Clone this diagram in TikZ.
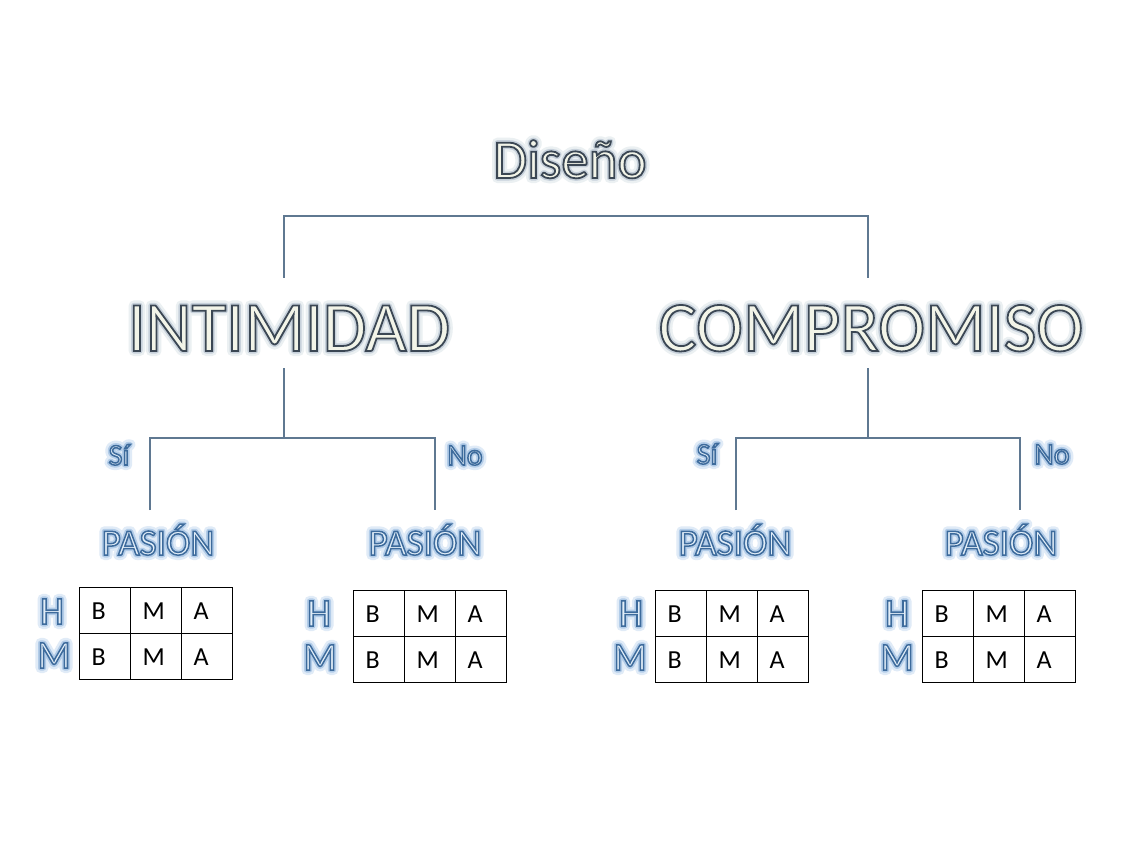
\documentclass[tikz,border=0pt]{standalone}
\usepackage{fontspec}
\setmainfont{Carlito}
\definecolor{bigfill}{RGB}{242,244,232}
\definecolor{smfill}{RGB}{226,238,248}
\definecolor{conn}{RGB}{95,120,145}
% #1 text, #2 fill colour, #3 stroke rgb, #4 stroke width, #5 inner glow rgb, #6 outer glow rgb
\newcommand\olt[6]{%
  \rlap{\special{pdf:literal direct 1 Tr 1 j 10 w #6 RG}#1\special{pdf:literal direct 0 Tr 0 j 1 w}}%
  \rlap{\special{pdf:literal direct 1 Tr 1 j 5 w #5 RG}#1\special{pdf:literal direct 0 Tr 0 j 1 w}}%
  {\color{#2}\special{pdf:literal direct 2 Tr #4 w #3 RG}#1\special{pdf:literal direct 0 Tr 1 w}}}
\newcommand\bigt[1]{\olt{#1}{bigfill}{0.23 0.28 0.33}{1.8}{0.78 0.82 0.86}{0.92 0.94 0.95}}
\newcommand\smt[1]{\olt{#1}{smfill}{0.24 0.42 0.61}{1.5}{0.70 0.80 0.91}{0.88 0.92 0.97}}
\tikzset{
  txt/.style={inner sep=0pt, anchor=base},
  huge/.style={txt, font=\fontsize{71}{80}\selectfont},
  title/.style={txt, font=\fontsize{55}{60}\selectfont},
  mid/.style={txt, font=\fontsize{37}{40}\selectfont},
  yn/.style={txt, font=\fontsize{30}{34}\selectfont},
  hm/.style={txt, font=\fontsize{39}{42}\selectfont},
  conline/.style={draw=conn, line width=1.8pt},
  cell/.style={draw=black, line width=1.3pt, anchor=north west,
    minimum width=51pt, minimum height=46pt, inner xsep=12pt, inner ysep=0pt,
    text width=27pt, align=left, text height=17pt, text depth=0pt,
    font=\fontsize{26}{28}\selectfont}
}
\newcommand\mktable[3]{%
  \foreach \r in {0,1}{
    \foreach \c/\l in {0/B,1/M,2/A}{
      \node[cell] (#1-\r-\c) at ({#2+\c*51},{#3+\r*46}) {\l};
    }
  }
}
\begin{document}
\begin{tikzpicture}[x=1pt,y=-1pt]
\fill[white] (0,0) rectangle (1135,850);
\useasboundingbox (0,0) rectangle (1135,850);

% titles
\node[title] (dis) at (570,178) {\bigt{Diseño}};
\node[huge] (int) at (289,351) {\bigt{INTIMIDAD}};
\node[huge] (comp) at (871,351) {\bigt{COMPROMISO}};

% top bracket
\coordinate (a1) at (284,278);
\coordinate (a2) at (284,216);
\coordinate (a3) at (868,216);
\coordinate (a4) at (868,278);
\draw[conline] (a1) -- (a2) -- (a3) -- (a4);

% left branch
\coordinate (l0) at (284,368);
\coordinate (l1) at (284,438);
\coordinate (l2) at (150,438);
\coordinate (l3) at (150,510);
\coordinate (l4) at (435,438);
\coordinate (l5) at (435,510);
\draw[conline] (l0) -- (l1);
\draw[conline] (l3) -- (l2) -- (l4) -- (l5);

% right branch
\coordinate (r0) at (868,368);
\coordinate (r1) at (868,438);
\coordinate (r2) at (736,438);
\coordinate (r3) at (736,510);
\coordinate (r4) at (1020,438);
\coordinate (r5) at (1020,510);
\draw[conline] (r0) -- (r1);
\draw[conline] (r3) -- (r2) -- (r4) -- (r5);

% yes / no
\node[yn] (si1) at (119,465) {\smt{Sí}};
\node[yn] (no1) at (465,465) {\smt{No}};
\node[yn] (si2) at (707,464) {\smt{Sí}};
\node[yn] (no2) at (1052,464) {\smt{No}};

% pasion
\node[mid] (p1) at (158,555) {\smt{PASIÓN}};
\node[mid] (p2) at (425,555) {\smt{PASIÓN}};
\node[mid] (p3) at (735,555) {\smt{PASIÓN}};
\node[mid] (p4) at (1001,555) {\smt{PASIÓN}};

% tables
\mktable{t1}{79}{587}
\mktable{t2}{353}{590}
\mktable{t3}{655}{590}
\mktable{t4}{922}{590}

% H / M
\node[hm] (h1) at (52,624) {\smt{H}};
\node[hm] (m1) at (54,668) {\smt{M}};
\node[hm] (h2) at (319,626) {\smt{H}};
\node[hm] (m2) at (320,670) {\smt{M}};
\node[hm] (h3) at (631,626) {\smt{H}};
\node[hm] (m3) at (630,670) {\smt{M}};
\node[hm] (h4) at (897,626) {\smt{H}};
\node[hm] (m4) at (897,670) {\smt{M}};
\end{tikzpicture}
\end{document}
